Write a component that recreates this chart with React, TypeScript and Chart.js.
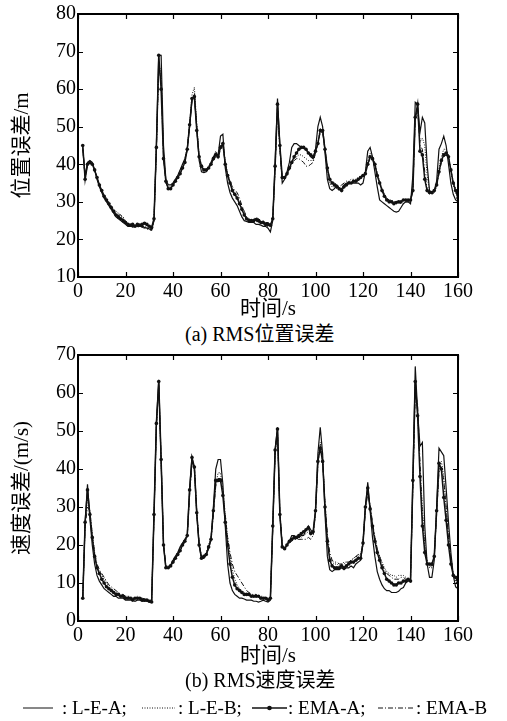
import React, { useEffect, useRef } from "react";
import { Chart, registerables } from "chart.js";

Chart.register(...registerables);

// time samples (s)
const TIME: number[] = Array.from({ length: 159 }, (_, i) => i + 2);

// ---- (a) RMS position error (m) ----
const POS_LEA = [44,37,40.5,41,40.5,38.5,36,34,32.5,31,30,29,28,27,26,25.5,25,24.5,24,23.5,23.5,23.5,23.8,23.5,23.5,23.5,23.2,23,22.8,22.5,25,45,69,69,45,36,34.5,34.5,35,36,37,38.5,40,41.5,44,50,57,58.5,50,41,38,37.8,38,39,40.5,42,43,42.5,47.5,48,39,35,32.5,31,30,29,27.5,26,25,24.8,24.5,24.5,24.5,24,24,23.8,23.5,23.5,23,22,25,41,57.5,45,35,36,38,40.5,44.5,45.5,45.5,45,44.5,44.5,44,43,42,41.5,44,50,52.5,50,43,36,33.5,33,33.5,34.5,33.5,33.5,34.5,35,35,35,35,35,35,34.5,35,38,43.5,44.5,42,38,34,30.5,30,29.5,29,28.5,28,27.5,27.3,27.5,28.5,29.5,30,30,29.5,37,56.5,56,48.5,52.5,51,40,33,32.5,33,35.5,44,45.5,47.5,45,40,35,32,30.5,30];
const POS_LEB = [44.5,36.5,40,40.5,40,38.5,36.5,34.5,33,32,31,30,29,28,27.5,27,26.5,25.5,24.5,24,23.5,23.5,23.8,23.5,23.8,23.5,23.5,23.2,23,23,25.5,44,67,64,43,35,34,34,35,36,37,38.5,40,41.5,44.5,51,58.5,60.5,51,42,39,38.5,38.5,39.5,40.5,42,43.5,42.5,45,46,41,37.5,35.5,33.5,32.5,31.5,30,28,26.5,25.5,25,24.5,24.5,24.8,24.5,24.5,24,23.5,23.5,23.5,25,39,55,44,36,36.5,37.5,39,40.5,41.5,42,42.5,42.5,42,41.5,41,41,41,43,46,49.5,49,44,38.5,35,34,34,33.5,33,33.5,34,34.5,35.5,36,36,36,36.5,37,37,38,41,43,42,40.5,37.5,35.5,33.5,32,31,30.5,30.5,30,30,30,30,30.5,30.5,30.5,30.5,33.5,53,55,46,47,45,37,33,32.5,33,34.5,39,42,44,44,42.5,38,34.5,32.5,31];
const POS_EMAA = [45,36,40,40.5,40,38.5,36.5,34.5,33,31.5,30.5,29.5,28.5,27.5,26.5,26,25.5,25,24.5,24,23.8,24,23.5,24,23.8,24,24.3,24,23.5,23.2,25.5,44.5,69,60,41.5,35.5,33.5,33.5,34.5,35.5,36.5,37.5,39,40.5,44,50.5,57.5,58,49,42,39.5,38.5,38.5,39,40,41.5,42.5,42,44.5,45.5,40,37,35,33,32,31,29.5,28,26.5,25.5,25,25,25,25.3,25,24.5,24.5,24,24,23.8,25.5,39.5,56,45,36.5,36.5,37.5,39,40.5,42,43,44,44.5,44.5,44,43,42.5,42,43.5,45.5,49,49,44,39,36,35,34.5,34,33.5,33,34,34.5,35,35,35.5,35.5,36,36.5,37,37.5,40,42,41.5,40,37,35,33,31.5,30.5,30,30,29.5,29.8,30,30,30.5,30.5,30.5,30.5,33,52.5,56,43.5,42.5,36,33,32.5,32.5,33,34.5,38,41,42.5,43,42,38.5,35,33,31];
const POS_EMAB = [44.5,36,40,40.5,40,38.5,36.5,34.5,33,31.5,30.5,29.5,28.5,27.5,27,26.5,26.5,26,25,24,23.5,23.2,23.5,23.2,23.5,23.2,23,22.8,22.5,22.5,25,44,66,62,42,35,33.5,33.5,34.5,35.5,36.5,37.5,39,40.5,44,50.5,57,58.5,49.5,42,39.5,38.5,38.5,39,40,41,42,41.5,44,45,40.5,37.5,35.5,34,33,32.5,31,29,27.5,26,25.5,25,25.5,25.8,25.5,25,25,24.5,24.5,24,25.5,39,55.5,44,36,36.5,37,38.5,40,41,41.5,41.5,41,40.5,39.5,39.5,40,40.5,43,45.5,48.5,48.5,44,39,36,35.5,35,34.5,34,34.5,35,35.5,35.5,35,35.5,36,36,36.5,37.5,38,40,41.5,41,40,37.5,35.5,33.5,32,31,30.5,30,30,30,29.8,29.5,29.5,30,30,30,33,52,55,45,44,38,33.5,32,32,32.5,34,37.5,40.5,42,42.5,41.5,38.5,35.5,33.5,31.5];

// ---- (b) RMS velocity error (m/s) ----
const VEL_LEA = [6,26,36,27,20,15,12,10.5,9.5,8.5,8,7.5,7,6.5,6.5,6,6,6,5.5,5.5,5.5,5.5,5.2,5.5,5.5,5.2,5.2,5.2,5,5,28,52,63.5,42,20,14,14,14.5,16,17,18,19.5,20.5,21.5,22.5,35,43,40,28,20,16.5,16.5,17.5,19,21.5,30,40,42.5,42.5,36,25,15,10,8,7,6.5,6,6,5.8,5.5,5.5,5.5,5.2,5.2,5,5.2,5.5,5.2,5,5.5,25,45,51,28,19.5,19,20,21,22.5,22.5,22,22,22.5,22.5,24,25,24,23,29,44,51,44,28,17,13.5,13,13.5,13.5,13.5,14,13.5,14,14,14.5,14,15,15.5,16,20.5,30,36.5,29,22,17,13,11,9.5,8.5,8,8,7.5,7.5,7.5,7.8,8.5,8.8,10,10.5,10.5,38,67,55,46,47,25,15,11.5,11.5,16,30,45.5,44.5,43.5,35,26,18,12,9,8.5];
const VEL_LEB = [6,26,32,29,23,18,14.5,13,12,11,10,9,8.5,8,7.5,7,7,6.5,6.5,6.5,6,6,6,6.5,6,6,5.8,5.5,5.5,5.2,28,51,62,42,20,14.5,14.5,15,16,17,18,19,20.5,21.5,22.5,34,42,40,28.5,20.5,17,17,18,20,22,29,36,39,39,34.5,28,22,17,13.5,11,9.5,8.5,8,7.5,7,7,6.8,6.5,6.5,6.5,6.2,6,6,6,6,25,44,50,28,20,19.5,20.5,21.5,21.5,21.5,21.5,22,22,22.5,23,23.5,23,23,28.5,42,47,43,31,22,17,15.5,15,15,14.5,15,15.5,15.5,15.5,16,16.5,17,17,17.5,21,30,34,30,25.5,22,19,17,15.5,14,13,12.5,12,12,11.5,12,12,12,11.5,11,11,36,62,55,40,30,20,16,14,14,17.5,28.5,40,42,38,30,22,16,12,10.5,9.5];
const VEL_EMAA = [6,26,34.5,28,22,17,14,12.5,11,10,9,8.5,8,7.5,7,7,6.5,6.5,6,6,6,5.5,6,6,6,5.5,5.5,5.5,5.2,5,28,52,63,42.5,20,14,14,14.5,15.5,16.5,17.5,18.5,20,21,22.5,34.5,43,40.5,28.5,20,16.5,17,17.5,19.5,21.5,29,37,37,37,33,26,20,15,11.5,9.5,8.5,8,7.5,7,7,7,6.5,6.5,6.5,6.5,6,6,6,5.5,6,25,45,50.5,28,19.5,19,20,21,21.5,22,22,22.5,23,23.5,24,24.5,23,23.5,29,42,45.5,42,30,21,16,14.5,14,14,14,14.5,14,14.5,15,15.5,15.5,16,16.5,16.5,20.5,30,35,29.5,25,21,18,16,14,12.5,11,10.5,10,9.5,9.5,10,10,10.5,10.5,11,10.5,37,63,54,38,25,18,15,15,15,17,29,41.5,40,32.5,26.5,20,15,12,11.5,10];
const VEL_EMAB = [6,25,30,29,23,18,15,13.5,12.5,11.5,10.5,9.5,9,8.5,8,7.5,7,7,6.5,6.5,6.5,6,6,6,6,6,5.8,5.5,5.5,5.5,27,51,62.5,43,20.5,14.5,14,14.5,15.5,16.5,17.5,18.5,19.5,21,22,33,41.5,41,29,20.5,17,17,18,19.5,21,28,35.5,37.5,37.5,34,28,22,18,15,13,12,11,10,9,8,7.5,7,7,7,6.5,6.5,6.5,6,6,6,24,44.5,50,29,20,19,20,20.5,21,21.5,21.5,21.5,21.5,21.5,21.5,22,21.5,22.5,28,41,46,42,31,23,18,16,15.5,15.5,15,15,15,15.5,15.5,16,16.5,17,17.5,17.5,20,29,33.5,30.5,26,22,19,17,15,13.5,12.5,12,11.5,11,11,11,11.5,11.5,11,11,10.5,35,60,57,42,28,19,15.5,14.5,14.5,17,28,39,40.5,37,30,22,16,12.5,11,10];

const X_TICK_STEP = 20;
const SERIF = "'Liberation Serif', 'Times New Roman', Tinos, serif, 'Noto Sans CJK SC'";
const INK = "#111";

const framePlugin = {
  id: "frameTicks",
  afterDraw(chart: any) {
    const { ctx, chartArea, scales } = chart;
    const { left, right, top, bottom } = chartArea;
    ctx.save();
    ctx.strokeStyle = "#000";
    ctx.lineWidth = 2;
    ctx.strokeRect(left, top, right - left, bottom - top);
    ctx.lineWidth = 1.2;
    const tl = 5;
    ctx.beginPath();
    scales.x.ticks.forEach((t: any) => {
      const px = Math.round(scales.x.getPixelForValue(t.value)) + 0.5;
      ctx.moveTo(px, bottom);
      ctx.lineTo(px, bottom - tl);
      ctx.moveTo(px, top);
      ctx.lineTo(px, top + tl);
    });
    scales.y.ticks.forEach((t: any) => {
      const py = Math.round(scales.y.getPixelForValue(t.value)) + 0.5;
      ctx.moveTo(left, py);
      ctx.lineTo(left + tl, py);
      ctx.moveTo(right, py);
      ctx.lineTo(right - tl, py);
    });
    ctx.stroke();
    ctx.restore();
  },
};

function toXY(vals: number[]) {
  return vals.map((v, i) => ({ x: TIME[i], y: v }));
}

function makeConfig(
  lea: number[],
  leb: number[],
  emaa: number[],
  emab: number[],
  yMin: number,
  yMax: number,
  yTitle: string,
  padTop: number,
  xAxisHeight: number
): any {
  return {
    type: "line",
    data: {
      datasets: [
        { label: "L-E-A", data: toXY(lea), borderColor: INK, borderWidth: 1.2, pointRadius: 0, tension: 0 },
        { label: "L-E-B", data: toXY(leb), borderColor: INK, borderWidth: 1, borderDash: [1, 1.5], pointRadius: 0, tension: 0 },
        { label: "EMA-B", data: toXY(emab), borderColor: INK, borderWidth: 1, borderDash: [5, 2, 1, 2], pointRadius: 0, tension: 0 },
        {
          label: "EMA-A", data: toXY(emaa), borderColor: INK, borderWidth: 1.5,
          pointRadius: 1.8, pointBackgroundColor: INK, pointBorderColor: INK, pointBorderWidth: 0, tension: 0,
        },
      ],
    },
    options: {
      responsive: false,
      animation: false,
      events: [],
      layout: { padding: { top: padTop, right: 49, bottom: 0, left: 0 } },
      plugins: { legend: { display: false }, tooltip: { enabled: false } },
      scales: {
        x: {
          type: "linear",
          min: 0,
          max: 160,
          afterFit: (s: any) => { s.height = xAxisHeight; },
          grid: { display: false, drawTicks: false },
          border: { display: false },
          ticks: { stepSize: X_TICK_STEP, padding: 3, color: "#000", font: { family: SERIF, size: 20 }, maxRotation: 0 },
          title: { display: true, text: "时间/s", color: "#000", font: { family: SERIF, size: 21 }, padding: { top: 0, bottom: 0 } },
        },
        y: {
          min: yMin,
          max: yMax,
          afterFit: (s: any) => { s.width = 78; },
          grid: { display: false, drawTicks: false },
          border: { display: false },
          ticks: { stepSize: 10, padding: 2, color: "#000", font: { family: SERIF, size: 20 } },
          title: { display: true, text: yTitle, color: "#000", font: { family: SERIF, size: 21 }, padding: { top: 10, bottom: 0 } },
        },
      },
    },
    plugins: [framePlugin],
  };
}

function ChartCanvas(props: { config: () => any; top: number; height: number }) {
  const ref = useRef<HTMLCanvasElement | null>(null);
  useEffect(() => {
    if (!ref.current) return;
    const chart = new Chart(ref.current, props.config());
    return () => chart.destroy();
  }, []);
  return (
    <canvas
      ref={ref}
      width={507}
      height={props.height}
      style={{ position: "absolute", left: 0, top: props.top, width: 507, height: props.height }}
    />
  );
}

const textStyle: React.CSSProperties = {
  position: "absolute",
  fontFamily: SERIF,
  fontSize: 19,
  lineHeight: "24px",
  color: "#000",
  whiteSpace: "nowrap",
};

function Sample(props: { kind: string; left: number; width: number }) {
  const { kind, left, width } = props;
  const y = 708;
  let dash: string | undefined;
  let sw = 1;
  if (kind === "dot") dash = "1 1.5";
  if (kind === "dashdot") dash = "5 2 1 2";
  if (kind === "ema") sw = 1.5;
  return (
    <svg style={{ position: "absolute", left, top: y - 5 }} width={width} height={10}>
      <line x1={0} y1={5} x2={width} y2={5} stroke={INK} strokeWidth={sw} strokeDasharray={dash} />
      {kind === "ema" ? <circle cx={width / 2} cy={5} r={2.3} fill={INK} /> : null}
    </svg>
  );
}

export default function App() {
  return (
    <div style={{ position: "absolute", left: 0, top: 0, width: 507, height: 721, background: "#fff", overflow: "hidden" }}>
      <ChartCanvas
        top={0}
        height={322}
        config={() => makeConfig(POS_LEA, POS_LEB, POS_EMAA, POS_EMAB, 10, 80, "位置误差/m", 12, 45)}
      />
      <div style={{ ...textStyle, fontSize: 20, left: 185, top: 322 }}>(a) RMS位置误差</div>
      <ChartCanvas
        top={340}
        height={329}
        config={() => makeConfig(VEL_LEA, VEL_LEB, VEL_EMAA, VEL_EMAB, 0, 70, "速度误差/(m/s)", 15, 48)}
      />
      <div style={{ ...textStyle, fontSize: 20, left: 185, top: 668 }}>(b) RMS速度误差</div>
      <Sample kind="solid" left={23} width={30} />
      <div style={{ ...textStyle, left: 62, top: 696 }}>: L-E-A;</div>
      <Sample kind="dot" left={142} width={33} />
      <div style={{ ...textStyle, left: 178, top: 696 }}>: L-E-B;</div>
      <Sample kind="ema" left={252} width={35} />
      <div style={{ ...textStyle, left: 288, top: 696 }}>: EMA-A;</div>
      <Sample kind="dashdot" left={378} width={35} />
      <div style={{ ...textStyle, left: 416, top: 696 }}>: EMA-B</div>
    </div>
  );
}
